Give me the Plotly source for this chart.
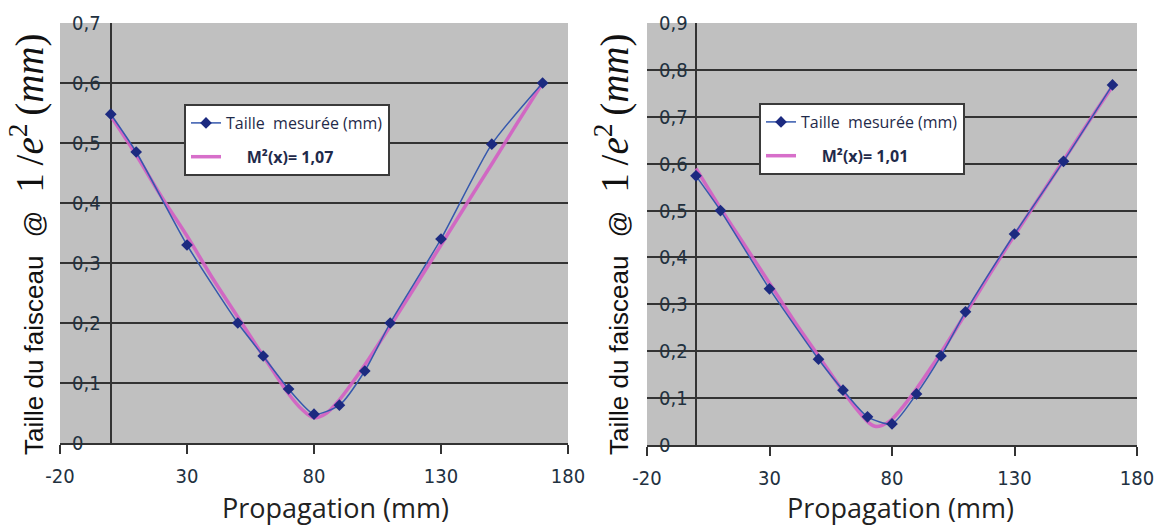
import plotly.graph_objects as go

W, H = 1156, 525

# ---------------- data ----------------
x_left = [0, 10, 30, 50, 60, 70, 80, 90, 100, 110, 130, 150, 170]
y_left = [0.548, 0.485, 0.33, 0.2, 0.145, 0.09, 0.048, 0.063, 0.12, 0.2, 0.34, 0.498, 0.6]

fit_x_left = [0, 10, 20, 30, 40, 50, 60, 65, 70, 75, 80, 85, 90, 95, 100, 110, 120, 130, 140, 150, 160, 170]
fit_y_left = [0.545, 0.48, 0.41, 0.345, 0.275, 0.21, 0.145, 0.113, 0.082, 0.057, 0.042, 0.05, 0.072, 0.1,
              0.13, 0.195, 0.262, 0.33, 0.398, 0.465, 0.533, 0.6]

x_right = [0, 10, 30, 50, 60, 70, 80, 90, 100, 110, 130, 150, 170]
y_right = [0.574, 0.5, 0.333, 0.183, 0.117, 0.06, 0.045, 0.109, 0.19, 0.284, 0.45, 0.605, 0.768]

fit_x_right = [0, 10, 20, 30, 40, 50, 60, 65, 70, 73, 76, 80, 85, 90, 95, 100, 110, 120, 130, 140, 150, 160, 170]
fit_y_right = [0.59, 0.505, 0.425, 0.345, 0.265, 0.19, 0.115, 0.08, 0.05, 0.04, 0.042, 0.055, 0.085, 0.12,
               0.158, 0.197, 0.28, 0.365, 0.447, 0.527, 0.607, 0.687, 0.765]

x_ticks = [-20, 30, 80, 130, 180]
x_ticktext = ["-20", "30", "80", "130", "180"]
y_ticks_left = [0, 0.1, 0.2, 0.3, 0.4, 0.5, 0.6, 0.7]
y_ticks_right = [0, 0.1, 0.2, 0.3, 0.4, 0.5, 0.6, 0.7, 0.8, 0.9]

legend_measured = "Taille\u00a0 mesurée (mm)"
legend_fit_left = "M²(x)= 1,07"
legend_fit_right = "M²(x)= 1,01"
x_title = "Propagation (mm)"
y_title_sans = "Taille du faisceau\u2002\u2009@\u2002\u2009"

# ---------------- styles ----------------
BLUE = "#3558ad"
NAVY = "#1c2a80"
PINK = "#d35fc4"
GRID = "#333333"
TICKC = "#22313f"
NARROW = "Liberation Sans Narrow, Arial Narrow, DejaVu Sans Condensed, sans-serif"
CAL = "Open Sans, Lato, sans-serif"


def comma(v):
    return ("%g" % v).replace(".", ",")


fig = go.Figure()
NB = "\u00a0" * 5

# left
fig.add_trace(go.Scatter(x=fit_x_left, y=fit_y_left, mode="lines", line=dict(color=PINK, width=3.5, shape="spline"),
                         opacity=0.9, name=NB + "<b>" + legend_fit_left + "</b>",
                         xaxis="x", yaxis="y", legend="legend", legendgroup="b", legendrank=2))
fig.add_trace(go.Scatter(x=x_left, y=y_left, mode="lines+markers",
                         line=dict(color=BLUE, width=1.5, shape="spline", smoothing=0.6),
                         marker=dict(symbol="diamond", size=9, color=NAVY),
                         name=legend_measured, xaxis="x", yaxis="y", legend="legend", legendgroup="a", legendrank=1))
# right
fig.add_trace(go.Scatter(x=fit_x_right, y=fit_y_right, mode="lines", line=dict(color=PINK, width=3.5, shape="spline"),
                         opacity=0.9, name=NB + "<b>" + legend_fit_right + "</b>",
                         xaxis="x2", yaxis="y2", legend="legend2", legendgroup="d", legendrank=2))
fig.add_trace(go.Scatter(x=x_right, y=y_right, mode="lines+markers",
                         line=dict(color=BLUE, width=1.5, shape="spline", smoothing=0.6),
                         marker=dict(symbol="diamond", size=9, color=NAVY),
                         name=legend_measured, xaxis="x2", yaxis="y2", legend="legend2", legendgroup="c", legendrank=1))

xl_dom = [60 / W, 568 / W]
xr_dom = [647 / W, 1137 / W]
yl_dom = [(H - 443) / H, (H - 23) / H]
yr_dom = [(H - 445) / H, (H - 23) / H]

xcommon = dict(range=[-20, 180], tickvals=x_ticks, ticktext=x_ticktext, showgrid=False,
               zeroline=True, zerolinecolor=GRID, zerolinewidth=2, automargin=False,
               showline=True, linecolor=GRID, linewidth=2, ticks="outside", ticklen=9, tickwidth=1.5,
               tickcolor=GRID, tickfont=dict(family=NARROW, size=20, color=TICKC), ticklabelstandoff=5)


def ycommon(rng, vals):
    return dict(range=rng, tickvals=vals, ticktext=[comma(v) for v in vals], showgrid=True, gridcolor=GRID,
                gridwidth=2, zeroline=False, showline=False, ticks="", automargin=False,
                ticklabelposition="inside", ticklabeloverflow="allow", ticklabelstandoff=9,
                tickfont=dict(family=NARROW, size=20, color=TICKC))


legcommon = dict(bgcolor="white", bordercolor="#3a3a3a", borderwidth=2, xanchor="left", yanchor="top",
                 font=dict(family=CAL, size=16, color="#1f2a4a"), traceorder="grouped", tracegroupgap=10,
                 itemwidth=30)

fig.update_layout(
    width=W, height=H, autosize=False,
    margin=dict(l=0, r=0, t=0, b=0),
    paper_bgcolor="white", plot_bgcolor="#c0c0c0",
    xaxis=dict(domain=xl_dom, anchor="y", **xcommon),
    yaxis=dict(domain=yl_dom, anchor="x", **ycommon([0, 0.7], y_ticks_left)),
    xaxis2=dict(domain=xr_dom, anchor="y2", **xcommon),
    yaxis2=dict(domain=yr_dom, anchor="x2", **ycommon([0, 0.9], y_ticks_right)),
    legend=dict(x=184 / W, y=1 - 104 / H, **legcommon),
    legend2=dict(x=759 / W, y=1 - 103 / H, **legcommon),
    showlegend=True,
)

ytitle = (y_title_sans + "<span style='font-family:Liberation Serif, DejaVu Serif, serif;font-size:39px'>"
          "1\u2009/<i>e</i><sup>2</sup>\u2009(<i>mm</i>)</span>")
for xc in (28, 613):
    fig.add_annotation(x=xc / W, y=1 - 244 / H, xref="paper", yref="paper", text=ytitle, textangle=-90,
                       showarrow=False, xanchor="center", yanchor="middle",
                       font=dict(family="Liberation Sans, Arial, sans-serif", size=26, color="#111111"))
for xc in (335, 900):
    fig.add_annotation(x=xc / W, y=1 - 507 / H, xref="paper", yref="paper", text=x_title, showarrow=False,
                       xanchor="center", yanchor="middle", font=dict(family=CAL, size=27, color="#222222"))

fig.write_html("out.html", config={"displayModeBar": False},
               post_script="document.body.style.margin='0px';")
